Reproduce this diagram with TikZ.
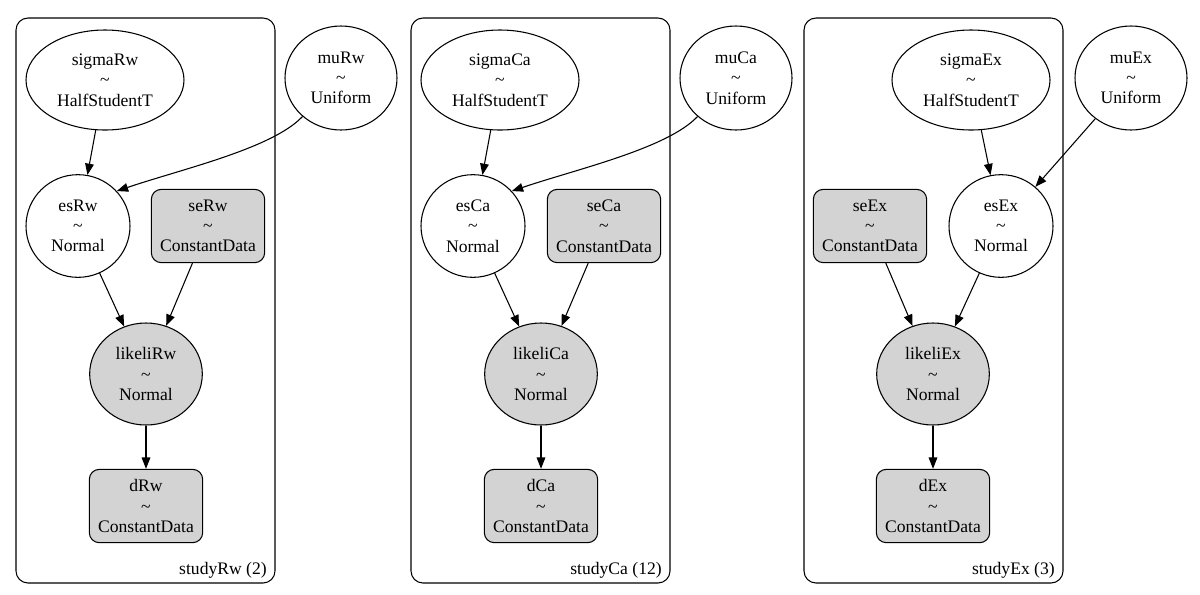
\documentclass[tikz,border=0pt]{standalone}
\usepackage{fontspec}
\setmainfont{Liberation Serif}
\usepackage{tikz}
\usepackage{xcolor}
\usetikzlibrary{shapes.geometric, arrows.meta}

\definecolor{gvgrey}{RGB}{211,211,211}

\begin{document}
\begin{tikzpicture}[x=0.75pt,y=0.75pt,yscale=-1,xscale=1,
  every node/.style={font=\fontsize{13.2}{15.2}\selectfont, align=center, inner sep=0pt},
  rv/.style={draw, line width=0.8pt, ellipse},
  obs/.style={draw, line width=0.8pt, ellipse, fill=gvgrey},
  cdata/.style={draw, line width=0.8pt, rectangle, rounded corners=7.5pt, fill=gvgrey, minimum width=85pt, minimum height=55pt},
  plate/.style={draw, line width=0.8pt, rounded corners=9pt},
  edge/.style={line width=0.8pt, -{Triangle[length=8.5pt,width=6.5pt]}}]
\useasboundingbox (0,0) rectangle (1200,594);

%Plates
\draw [plate] (16,18) rectangle (275,583) ;
\draw [plate] (411,18) rectangle (670,583) ;
\draw [plate] (804,18) rectangle (1063,583) ;

% Plate labels
\node (lblRw) [anchor=east] at (267,570) {studyRw (2)};
\node (lblCa) [anchor=east] at (662,570) {studyCa (12)};
\node (lblEx) [anchor=east] at (1055,570) {studyEx (3)};

%Nodes studyRw
\node (sigmaRw) [rv, minimum width=118.5pt, minimum height=75pt] at (105,80) {sigmaRw\\\textasciitilde\\HalfStudentT};
\node (muRw) [rv, minimum width=84pt, minimum height=78pt] at (341,78) {muRw\\\textasciitilde\\Uniform};
\node (esRw) [rv, minimum width=78pt, minimum height=77pt] at (78,226) {esRw\\\textasciitilde\\Normal};
\node (seRw) [cdata] at (208,226) {seRw\\\textasciitilde\\ConstantData};
\node (likeliRw) [obs, minimum width=84.5pt, minimum height=76.5pt] at (146,374) {likeliRw\\\textasciitilde\\Normal};
\node (dRw) [cdata] at (146,506) {dRw\\\textasciitilde\\ConstantData};

%Nodes studyCa
\node (sigmaCa) [rv, minimum width=118.5pt, minimum height=75pt] at (500,80) {sigmaCa\\\textasciitilde\\HalfStudentT};
\node (muCa) [rv, minimum width=84pt, minimum height=78pt] at (736,78) {muCa\\\textasciitilde\\Uniform};
\node (esCa) [rv, minimum width=78pt, minimum height=77pt] at (473,226) {esCa\\\textasciitilde\\Normal};
\node (seCa) [cdata] at (604,226) {seCa\\\textasciitilde\\ConstantData};
\node (likeliCa) [obs, minimum width=84.5pt, minimum height=76.5pt] at (541,374) {likeliCa\\\textasciitilde\\Normal};
\node (dCa) [cdata] at (541,506) {dCa\\\textasciitilde\\ConstantData};

%Nodes studyEx
\node (sigmaEx) [rv, minimum width=118.5pt, minimum height=75pt] at (971,80) {sigmaEx\\\textasciitilde\\HalfStudentT};
\node (muEx) [rv, minimum width=84pt, minimum height=78pt] at (1131,78) {muEx\\\textasciitilde\\Uniform};
\node (esEx) [rv, minimum width=78pt, minimum height=77pt] at (1001,226) {esEx\\\textasciitilde\\Normal};
\node (seEx) [cdata] at (870,226) {seEx\\\textasciitilde\\ConstantData};
\node (likeliEx) [obs, minimum width=84.5pt, minimum height=76.5pt] at (933,374) {likeliEx\\\textasciitilde\\Normal};
\node (dEx) [cdata] at (933,506) {dEx\\\textasciitilde\\ConstantData};

%Edges studyRw
\draw [edge] (sigmaRw) -- (esRw) ;
\draw [edge] (muRw.225) .. controls +(-30,32) and +(65,-22) .. (esRw.42) ;
\draw [edge] (esRw) -- (likeliRw) ;
\draw [edge] (seRw) -- (likeliRw) ;
\draw [edge] (likeliRw) -- (dRw) ;

%Edges studyCa
\draw [edge] (sigmaCa) -- (esCa) ;
\draw [edge] (muCa.225) .. controls +(-30,32) and +(65,-22) .. (esCa.42) ;
\draw [edge] (esCa) -- (likeliCa) ;
\draw [edge] (seCa) -- (likeliCa) ;
\draw [edge] (likeliCa) -- (dCa) ;

%Edges studyEx
\draw [edge] (sigmaEx) -- (esEx) ;
\draw [edge] (muEx) -- (esEx) ;
\draw [edge] (esEx) -- (likeliEx) ;
\draw [edge] (seEx) -- (likeliEx) ;
\draw [edge] (likeliEx) -- (dEx) ;

\end{tikzpicture}
\end{document}
